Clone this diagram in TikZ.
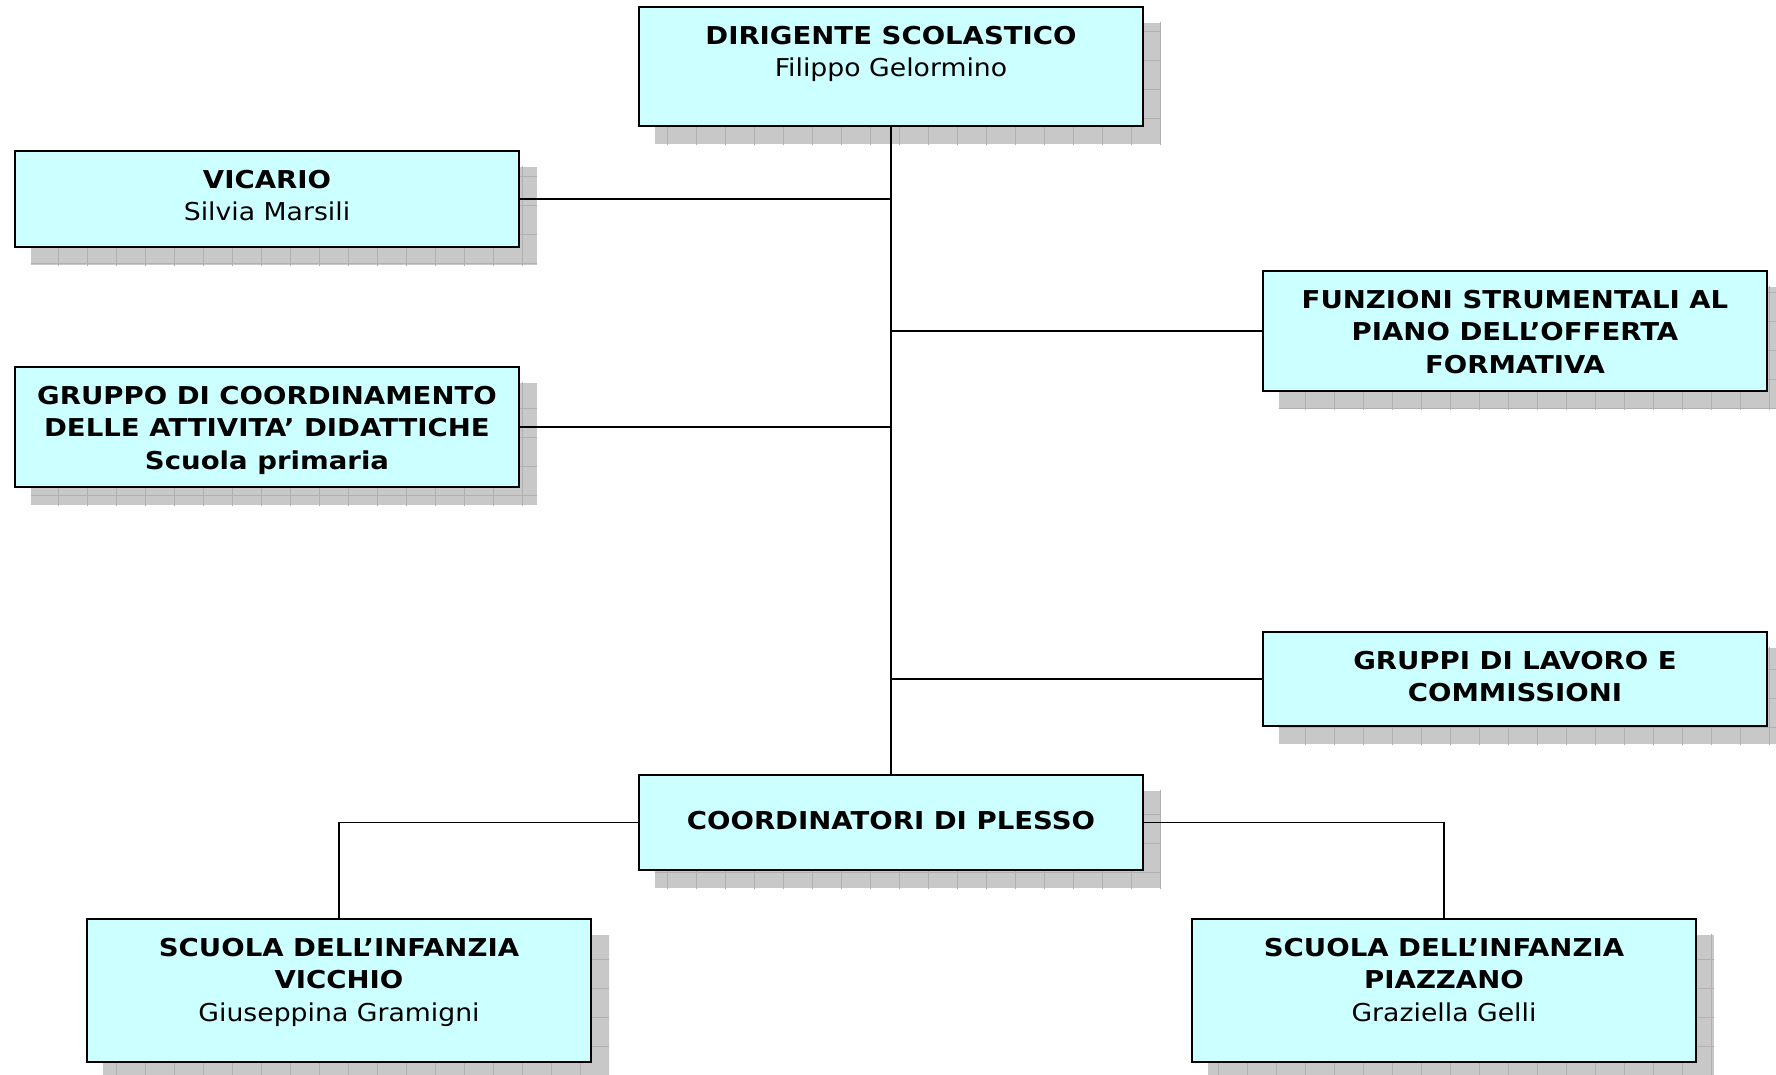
\documentclass[tikz,border=0pt]{standalone}
\usepackage{fontspec}
\setmainfont{DejaVu Sans}[UprightFeatures={FakeStretch=1.085}, BoldFeatures={FakeStretch=1.12}]
\usetikzlibrary{positioning}
\usetikzlibrary{backgrounds}
\definecolor{boxCyan}{HTML}{CCFFFF}
\definecolor{shadowGray}{HTML}{C8C8C8}
\definecolor{shadowLine}{HTML}{B0B0B0}
\tikzset{
    orgBox/.style={draw=black, line width=1.2pt, fill=boxCyan, inner sep=0pt, minimum width=10.08cm},
    orgLine/.style={black, line width=1.1pt},
}
\newcommand{\boxtext}[2]{\parbox[c][#1][t]{9.9cm}{\centering\fontsize{14}{18.4}\selectfont\vspace*{8.5pt}\strut#2}}

\begin{document}
\begin{tikzpicture}
          \useasboundingbox (0,0) rectangle (35.52,21.5);
          \node[orgBox] (dirigente) at (17.82,20.17) {\boxtext{2.38cm}{\textbf{DIRIGENTE SCOLASTICO}\\Filippo Gelormino}};
          \node[orgBox] (vicario) at (5.34,17.52) {\boxtext{1.92cm}{\textbf{VICARIO}\\Silvia Marsili}};
          \node[orgBox] (gruppoCoord) at (5.34,12.96) {\boxtext{2.40cm}{\textbf{GRUPPO DI COORDINAMENTO}\\\textbf{DELLE ATTIVITA’ DIDATTICHE}\\\textbf{Scuola primaria}}};
          \node[orgBox] (funzioni) at (30.30,14.88) {\boxtext{2.40cm}{\textbf{FUNZIONI STRUMENTALI AL}\\\textbf{PIANO DELL’OFFERTA}\\\textbf{FORMATIVA}}};
          \node[orgBox] (gruppiLavoro) at (30.30,7.92) {\boxtext{1.88cm}{\textbf{GRUPPI DI LAVORO E}\\\textbf{COMMISSIONI}}};
          \node[orgBox, minimum height=1.90cm, font=\fontsize{14}{18}\selectfont\bfseries] (coordinatori) at (17.82,5.05) {\raisebox{2pt}{COORDINATORI DI PLESSO}};
          \node[orgBox] (infVicchio) at (6.78,1.69) {\boxtext{2.86cm}{\textbf{SCUOLA DELL’INFANZIA}\\\textbf{VICCHIO}\\Giuseppina Gramigni}};
          \node[orgBox] (infPiazzano) at (28.88,1.69) {\boxtext{2.86cm}{\textbf{SCUOLA DELL’INFANZIA}\\\textbf{PIAZZANO}\\Graziella Gelli}};
          % shadows behind the boxes
          \begin{scope}[on background layer]
            \foreach \n in {dirigente,vicario,gruppoCoord,funzioni,gruppiLavoro,coordinatori,infVicchio,infPiazzano} {
              \begin{scope}
                \clip ([shift={(0.34,-0.34)}]\n.south west) rectangle ([shift={(0.34,-0.34)}]\n.north east);
                \fill[shadowGray] ([shift={(0.34,-0.34)}]\n.south west) rectangle ([shift={(0.34,-0.34)}]\n.north east);
                \draw[shadowLine, line width=0.4pt] (0,0) grid[step=0.58] (35.52,21.5);
              \end{scope}
            }
          \end{scope}
          % connectors
          \draw[orgLine] (dirigente.south) -- (coordinatori.north);
          \draw[orgLine] (vicario.east) -- (vicario.east -| dirigente.south);
          \draw[orgLine] (gruppoCoord.east) -- (gruppoCoord.east -| dirigente.south);
          \draw[orgLine] (funzioni.west) -- (funzioni.west -| dirigente.south);
          \draw[orgLine] (gruppiLavoro.west) -- (gruppiLavoro.west -| dirigente.south);
          \draw[orgLine] (coordinatori.west) -| (infVicchio.north);
          \draw[orgLine] (coordinatori.east) -| (infPiazzano.north);
\end{tikzpicture}
\end{document}
